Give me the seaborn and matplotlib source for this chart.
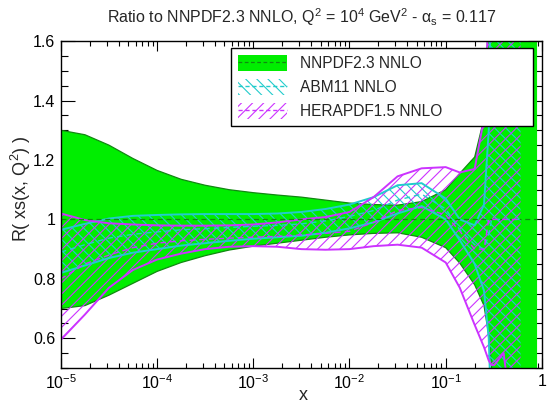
import pandas as pd
import seaborn as sns
import matplotlib
matplotlib.use("Agg")
import matplotlib.pyplot as plt
from matplotlib.patches import Patch
from matplotlib.lines import Line2D
from matplotlib.ticker import FixedLocator, FixedFormatter, LogLocator, NullFormatter, MultipleLocator

# x grid (values at these x)
x = [1e-5, 1.78e-5, 3.16e-5, 5.62e-5, 1e-4, 1.78e-4, 3.16e-4, 5.62e-4,
     1e-3, 1.78e-3, 3.16e-3, 5.62e-3, 1e-2, 1.78e-2, 3.16e-2, 5.62e-2,
     0.1, 0.14, 0.2, 0.25, 0.28, 0.3, 0.32, 0.4, 0.5, 0.6]
x_nnpdf = x + [0.7, 0.89]

# NNPDF2.3 NNLO band
nnpdf_up = [1.30, 1.285, 1.25, 1.205, 1.165, 1.135, 1.115, 1.10, 1.09, 1.082, 1.075, 1.065, 1.055,
            1.05, 1.048, 1.06, 1.10, 1.155, 1.21, 1.34, 1.7, 2.0, 2.0, 2.0, 2.0, 2.0, 2.0, 2.0]
nnpdf_lo = [0.70, 0.71, 0.745, 0.785, 0.825, 0.855, 0.878, 0.897, 0.91, 0.92, 0.93, 0.94, 0.948,
            0.953, 0.955, 0.94, 0.905, 0.853, 0.78, 0.71, 0.61, 0.50, 0.3, 0.3, 0.3, 0.3, 0.3, 0.3]
nnpdf_cv = [1.0] * len(x_nnpdf)

# ABM11 NNLO band
abm_up = [0.965, 0.985, 1.003, 1.012, 1.015, 1.017, 1.018, 1.018, 1.018, 1.02, 1.025, 1.035, 1.05,
          1.075, 1.115, 1.122, 1.07, 1.0, 0.98, 1.05, 1.3, 2.0, 2.0, 2.0, 2.0, 2.0]
abm_lo = [0.82, 0.845, 0.87, 0.888, 0.90, 0.912, 0.92, 0.928, 0.935, 0.94, 0.945, 0.955, 0.97,
          0.99, 1.02, 1.045, 1.0, 0.93, 0.85, 0.76, 0.6, 0.3, 0.3, 0.3, 0.3, 0.3]
abm_cv = [0.89, 0.915, 0.937, 0.95, 0.958, 0.965, 0.969, 0.973, 0.977, 0.98, 0.985, 0.995, 1.01,
          1.03, 1.065, 1.085, 1.035, 0.965, 0.915, 0.9, 0.95, 1.0, 1.0, 1.0, 1.0, 1.0]

# HERAPDF1.5 NNLO band
hera_up = [1.02, 0.998, 0.987, 0.983, 0.98, 0.979, 0.979, 0.98, 0.983, 0.99, 1.0, 1.008, 1.025,
           1.075, 1.145, 1.172, 1.176, 1.158, 1.17, 1.34, 1.7, 2.0, 2.0, 2.0, 2.0, 2.0]
hera_lo = [0.595, 0.68, 0.77, 0.83, 0.865, 0.885, 0.90, 0.908, 0.91, 0.908, 0.90, 0.898, 0.90,
           0.91, 0.915, 0.905, 0.855, 0.77, 0.645, 0.57, 0.525, 0.51, 0.51, 0.55, 0.3, 0.3]
hera_cv = [0.80, 0.85, 0.88, 0.905, 0.92, 0.928, 0.933, 0.937, 0.94, 0.943, 0.948, 0.953, 0.96,
           0.99, 1.03, 1.04, 1.015, 0.96, 0.9, 0.9, 1.0, 1.0, 1.0, 1.0, 1.0, 1.0]

labels = ["NNPDF2.3 NNLO", "ABM11 NNLO", "HERAPDF1.5 NNLO"]
xtick_vals = [1e-5, 1e-4, 1e-3, 1e-2, 1e-1, 1]
xtick_labels = ["$10^{-5}$", "$10^{-4}$", "$10^{-3}$", "$10^{-2}$", "$10^{-1}$", "1"]
ytick_vals = [0.6, 0.8, 1.0, 1.2, 1.4, 1.6]
ytick_labels = ["0.6", "0.8", "1", "1.2", "1.4", "1.6"]

green = "#00ee00"
dgreen = "#118811"
cyan = "#22cccc"
magenta = "#cc33ff"

sns.set_theme(style="ticks")
plt.rcParams['font.family'] = ['Liberation Sans', 'DejaVu Sans']
plt.rcParams['mathtext.fontset'] = 'custom'
plt.rcParams['mathtext.rm'] = 'Liberation Sans'
plt.rcParams['mathtext.it'] = 'Liberation Sans:italic'
plt.rcParams['mathtext.sf'] = 'Liberation Sans'
plt.rcParams['hatch.linewidth'] = 0.8

fig = plt.figure(figsize=(5.53, 4.05), dpi=100)
ax = fig.add_axes([0.110, 0.0914, 0.870, 0.807])

# bands
ax.fill_between(x_nnpdf, nnpdf_lo, nnpdf_up, facecolor=green, edgecolor="none", zorder=1)
ax.plot(x_nnpdf, nnpdf_up, color=dgreen, lw=0.9, zorder=2)
ax.plot(x_nnpdf, nnpdf_lo, color=dgreen, lw=0.9, zorder=2)

ax.fill_between(x, abm_lo, abm_up, facecolor="none", edgecolor=cyan, hatch="\\\\\\", lw=0, zorder=3)
ax.fill_between(x, hera_lo, hera_up, facecolor="none", edgecolor=magenta, hatch="///", lw=0, zorder=4)

for y, c in [(abm_up, cyan), (abm_lo, cyan)]:
    ax.plot(x, y, color=c, lw=1.4, zorder=5)
for y, c in [(hera_up, magenta), (hera_lo, magenta)]:
    ax.plot(x, y, color=c, lw=1.4, zorder=6)

# central values
cv = pd.DataFrame({"x": x, "abm": abm_cv, "hera": hera_cv})
sns.lineplot(x=x_nnpdf, y=nnpdf_cv, ax=ax, color=dgreen, lw=0.9, linestyle=(0, (4, 3)), zorder=7)
sns.lineplot(data=cv, x="x", y="abm", ax=ax, color=cyan, lw=1.0, linestyle=(0, (4, 3)), zorder=7)
sns.lineplot(data=cv, x="x", y="hera", ax=ax, color=magenta, lw=1.0, linestyle=(0, (4, 3)), zorder=7)

ax.set_xscale("log")
ax.set_xlim(1e-5, 1)
ax.set_ylim(0.5, 1.6)

ax.xaxis.set_major_locator(FixedLocator(xtick_vals))
ax.xaxis.set_major_formatter(FixedFormatter(xtick_labels))
ax.xaxis.set_minor_locator(LogLocator(base=10, subs=range(2, 10)))
ax.xaxis.set_minor_formatter(NullFormatter())
ax.yaxis.set_major_locator(FixedLocator(ytick_vals))
ax.yaxis.set_major_formatter(FixedFormatter(ytick_labels))
ax.yaxis.set_minor_locator(MultipleLocator(0.05))

ax.tick_params(axis="both", which="both", direction="in", top=True, right=True,
               colors="black", width=0.8, labelsize=11.5)
ax.tick_params(axis="x", which="major", length=7, pad=4)
ax.tick_params(axis="x", which="minor", length=3.6)
ax.tick_params(axis="y", which="major", length=10, pad=4)
ax.tick_params(axis="y", which="minor", length=5)
for s in ax.spines.values():
    s.set_color("black")
    s.set_linewidth(1.0)
    s.set_zorder(10)

ax.set_xlabel("x", fontsize=13)
ax.xaxis.label.set_va("center")
ax.xaxis.set_label_coords(0.503, -0.083)
ax.set_ylabel("R( xs(x, Q$^2$) )", fontsize=13)
ax.yaxis.label.set_va("center")
ax.yaxis.set_label_coords(-0.082, 0.55)
ax.set_title("Ratio to NNPDF2.3 NNLO, Q$^2$ = 10$^4$ GeV$^2$ - α$_\\mathrm{s}$ = 0.117",
             fontsize=11.5, pad=13)

handles = [
    (Patch(facecolor=green, edgecolor="none"), Line2D([], [], color=dgreen, lw=0.9, linestyle=(0, (3, 2)))),
    (Patch(facecolor="none", edgecolor=cyan, hatch="\\\\\\", lw=0), Line2D([], [], color=cyan, lw=1.0, linestyle=(0, (3, 2)))),
    (Patch(facecolor="none", edgecolor=magenta, hatch="///", lw=0), Line2D([], [], color=magenta, lw=1.0, linestyle=(0, (3, 2)))),
]
leg = ax.legend(handles, labels, loc="upper left", bbox_to_anchor=(0.353, 0.979, 0.628, 0.0),
                mode="expand", fontsize=11.2, frameon=True, fancybox=False, framealpha=1,
                edgecolor="black", borderaxespad=0, handlelength=3.2, handleheight=1.2,
                labelspacing=0.5, handletextpad=0.8, borderpad=0.45)
leg.get_frame().set_linewidth(1.0)
leg.set_zorder(20)

fig.savefig("out.png", dpi=100)
